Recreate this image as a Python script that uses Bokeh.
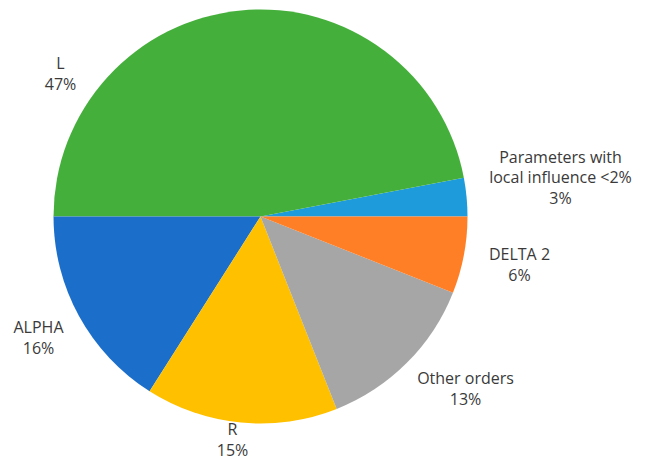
import math
from bokeh.plotting import figure
from bokeh.models import ColumnDataSource, Range1d
from bokeh.core.properties import value
from bokeh.embed import file_html
from bokeh.resources import INLINE

# Data (counter-clockwise from 3 o'clock)
categories = ["Parameters with\nlocal influence <2%", "L", "ALPHA", "R", "Other orders", "DELTA 2"]
shares = [3, 47, 16, 15, 13, 6]
colors = ["#1E9BDB", "#45AF3B", "#1B6FCA", "#FFC000", "#A6A6A6", "#FF7F27"]

# Layout (picture pixel positions of label centres)
label_px = [560, 60, 38, 232, 465, 519]
label_py = [177, 73, 337, 439, 388, 264]

W, H = 640, 463
cx_pix, cy_pix, R = 260, 216, 207

def to_y(py):
    return H - py

total = sum(shares)
starts, ends = [], []
acc = 0.0
for s in shares:
    starts.append(2 * math.pi * acc / total)
    acc += s
    ends.append(2 * math.pi * acc / total)

src = ColumnDataSource(dict(
    cat=categories, share=shares, color=colors,
    start=starts, end=ends,
))

p = figure(width=W, height=H, output_backend="svg", toolbar_location=None,
           x_range=Range1d(0, W), y_range=Range1d(0, H),
           min_border=0, outline_line_color=None)
p.axis.visible = False
p.grid.visible = False
p.background_fill_color = "white"

p.wedge(x=cx_pix, y=to_y(cy_pix), radius=R, start_angle="start", end_angle="end",
        fill_color="color", line_color=None, source=src)

labels = [f"{c}\n{s}%" for c, s in zip(categories, shares)]
lsrc = ColumnDataSource(dict(x=label_px, y=[to_y(v) for v in label_py], text=labels))
p.text(x="x", y="y", text="text", source=lsrc, text_align="center", text_baseline="middle",
       text_font=value("Open Sans"), text_font_size="16px", text_color="#3a3a3a",
       text_line_height=0.95)

open("out.html", "w").write(file_html(p, INLINE))
